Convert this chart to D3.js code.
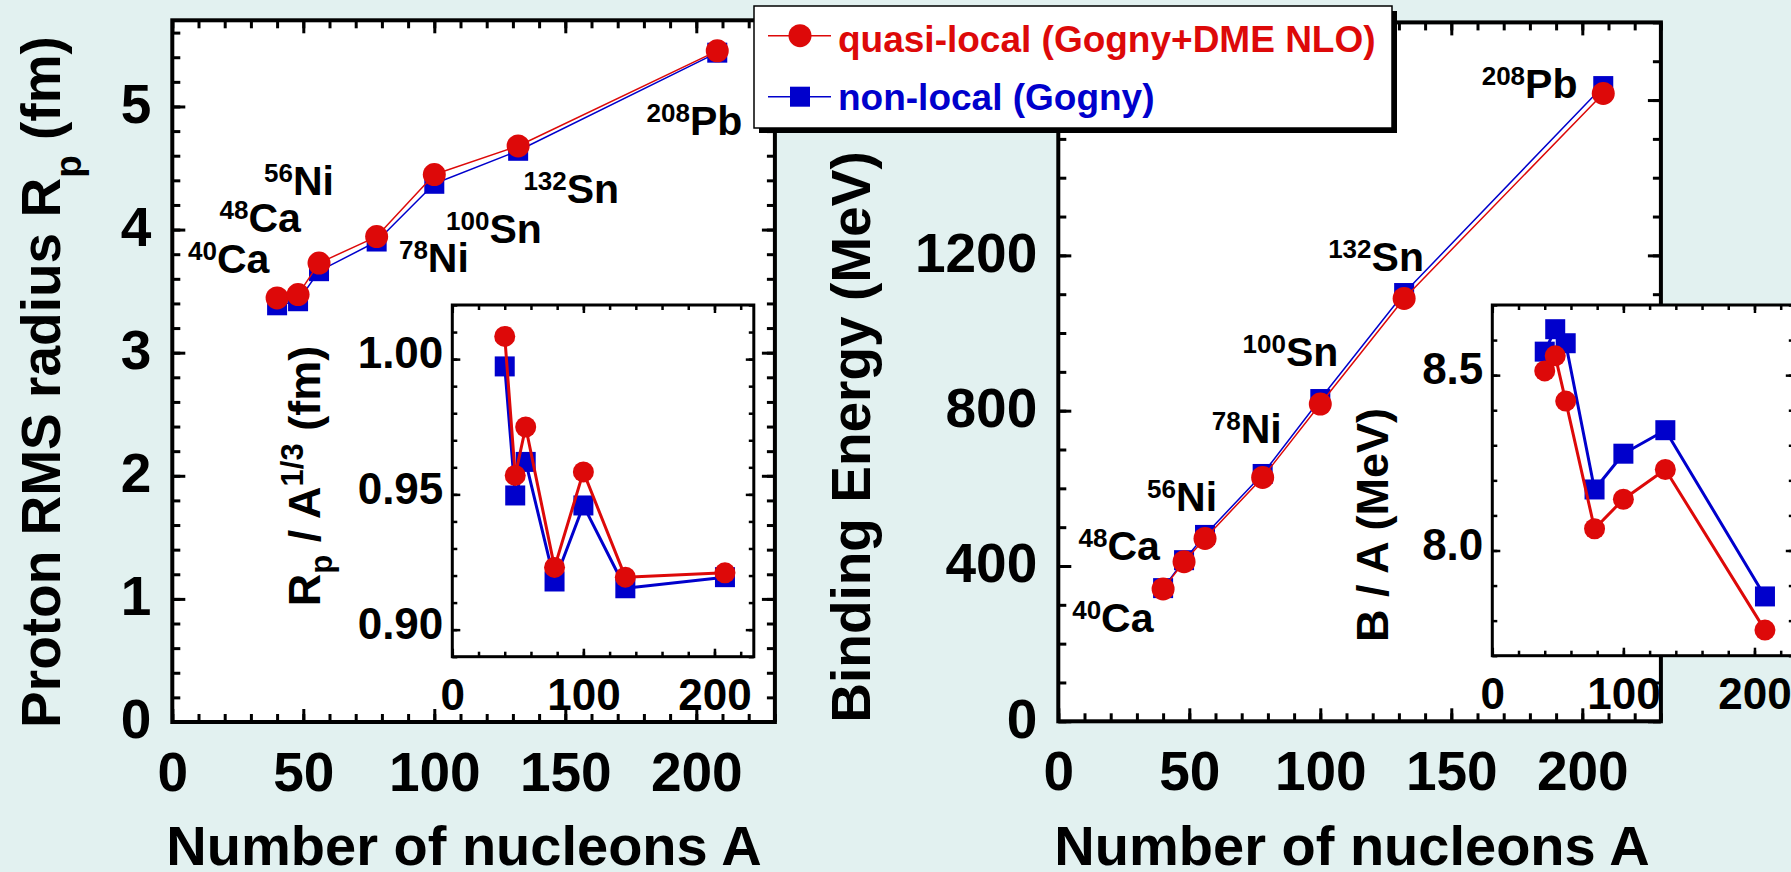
<!DOCTYPE html>
<html>
<head>
<meta charset="utf-8">
<script src="https://cdn.jsdelivr.net/npm/d3@7"></script>
<style>
  html, body { margin: 0; padding: 0; background: #e2f1f0; }
  svg { display: block; }
</style>
</head>
<body>
<svg id="chart" width="1791" height="872"></svg>
<script>
// ---- data ----
const massNumbers = [40, 48, 56, 78, 100, 132, 208];
const elementSymbols = ["Ca", "Ca", "Ni", "Ni", "Sn", "Sn", "Pb"];

// proton rms radius (fm)
const radiusQuasiLocal = [3.445, 3.472, 3.728, 3.943, 4.447, 4.679, 5.452];
const radiusNonLocal   = [3.385, 3.418, 3.662, 3.903, 4.372, 4.640, 5.437];
// Rp / A^(1/3) (fm)
const scaledRadiusQuasiLocal = [1.0084, 0.9570, 0.9749, 0.9230, 0.9583, 0.9194, 0.9210];
const scaledRadiusNonLocal   = [0.9973, 0.9496, 0.9620, 0.9178, 0.9459, 0.9153, 0.9194];
// total binding energy (MeV)
const bindingQuasiLocal = [341, 411, 471, 628, 817, 1089, 1617];
const bindingNonLocal   = [343, 415, 480, 637, 830, 1103, 1636];
// binding energy per nucleon (MeV)
const bindingPerAQuasiLocal = [8.512, 8.555, 8.426, 8.062, 8.146, 8.231, 7.773];
const bindingPerANonLocal   = [8.567, 8.631, 8.591, 8.174, 8.276, 8.343, 7.869];

const seriesNames = ["quasi-local (Gogny+DME NLO)", "non-local (Gogny)"];

// tick values
const mainXMajor = [0, 50, 100, 150, 200];
const mainXMinor = d3.range(0, 24).map(i => i * 10);
const radiusMajor = [0, 1, 2, 3, 4, 5];
const radiusMinor = d3.range(0, 29).map(i => +(i * 0.2).toFixed(1));
const bindingMajor = [0, 400, 800, 1200, 1600];
const bindingLabelled = [0, 400, 800, 1200];
const bindingMinor = d3.range(0, 19).map(i => i * 100);
const insetXMajor = [0, 100, 200];
const insetXMinor = d3.range(0, 12).map(i => i * 20);
const scaledRadiusMajor = [0.90, 0.95, 1.00];
const scaledRadiusMinor = d3.range(89, 103).map(i => i / 100);
const bindingPerAMajor = [8.0, 8.5];
const bindingPerAMinor = d3.range(77, 88).map(i => i / 10);

// nuclide tag anchors in data units (A, value) of each main panel
const radiusTagA = [6, 18, 35, 86.5, 104.5, 134, 181];
const radiusTagV = [3.647, 3.983, 4.281, 3.658, 3.889, 4.214, 4.768];
const bindingTagA = [5.3, 7.7, 33.9, 58.6, 70.3, 103, 161.6];
const bindingTagV = [230, 415, 542, 717, 915, 1160, 1605];

// ---- style ----
const BG = "#e2f1f0";
const RED = "#dd0909";
const BLUE = "#0000cc";
const FONT = "'Liberation Sans', Arial, Helvetica, sans-serif";

const svg = d3.select("#chart");
svg.append("rect").attr("width", 1791).attr("height", 872).attr("fill", BG);

function drawPanel(cfg) {
  const g = svg.append("g");
  const x = d3.scaleLinear().domain(cfg.xDomain).range([cfg.left, cfg.right]);
  const y = d3.scaleLinear().domain(cfg.yDomain).range([cfg.bottom, cfg.top]);

  g.append("rect")
    .attr("x", cfg.left).attr("y", cfg.top)
    .attr("width", cfg.right - cfg.left).attr("height", cfg.bottom - cfg.top)
    .attr("fill", "#fff");

  // axes: inward ticks on all four sides
  const sides = [
    { make: d3.axisBottom, scale: x, pos: [0, cfg.bottom], major: cfg.xMajor, minor: cfg.xMinor, label: cfg.xLabel },
    { make: d3.axisTop,    scale: x, pos: [0, cfg.top],    major: cfg.xMajor, minor: cfg.xMinor },
    { make: d3.axisLeft,   scale: y, pos: [cfg.left, 0],   major: cfg.yMajor, minor: cfg.yMinor, label: cfg.yLabel },
    { make: d3.axisRight,  scale: y, pos: [cfg.right, 0],  major: cfg.yMajor, minor: cfg.yMinor }
  ];
  sides.forEach(sd => {
    const minorAxis = sd.make(sd.scale).tickValues(sd.minor).tickSize(-cfg.minorLen).tickSizeOuter(0).tickFormat("");
    const majorAxis = sd.make(sd.scale).tickValues(sd.major).tickSize(-cfg.majorLen).tickSizeOuter(0);
    if (sd.label) majorAxis.tickFormat(sd.label.format).tickPadding(sd.label.pad);
    else majorAxis.tickFormat("");
    [minorAxis, majorAxis].forEach(ax => {
      const ag = g.append("g").attr("transform", `translate(${sd.pos})`).call(ax);
      ag.select(".domain").remove();
      ag.attr("font-family", null).attr("font-size", null);
      ag.selectAll("line").attr("stroke", "#000").attr("stroke-width", cfg.tickWidth);
      ag.selectAll("text").filter(function () { return this.textContent === ""; }).remove();
      ag.selectAll("text")
        .attr("font-family", FONT).attr("font-weight", "bold")
        .attr("font-size", cfg.tickFont).attr("fill", "#000");
      if (sd.label && sd.label.dy) ag.selectAll("text").attr("dy", sd.label.dy);
    });
  });

  // series: lines and markers (second series drawn first so the first sits on top)
  const line = d3.line().x((d, i) => x(massNumbers[i])).y(d => y(d));
  cfg.series.slice().reverse().forEach(s => {
    g.append("path").datum(s.values)
      .attr("d", line).attr("fill", "none")
      .attr("stroke", s.color).attr("stroke-width", cfg.lineWidth)
      .attr("stroke-linejoin", "round");
    const m = g.append("g").attr("fill", s.color);
    if (s.shape === "circle") {
      m.selectAll("circle").data(s.values).join("circle")
        .attr("cx", (d, i) => x(massNumbers[i])).attr("cy", d => y(d))
        .attr("r", cfg.radius);
    } else {
      m.selectAll("rect").data(s.values).join("rect")
        .attr("x", (d, i) => x(massNumbers[i]) - cfg.square / 2)
        .attr("y", d => y(d) - cfg.square / 2)
        .attr("width", cfg.square).attr("height", cfg.square);
    }
  });

  // nuclide tags
  if (cfg.tags) {
    const tg = g.append("g").attr("font-family", FONT).attr("font-weight", "bold").attr("fill", "#000");
    massNumbers.forEach((a, i) => {
      const t = tg.append("text")
        .attr("x", x(cfg.tags.a[i])).attr("y", y(cfg.tags.v[i]))
        .attr("font-size", 41);
      t.append("tspan").attr("font-size", 26).attr("dy", -13).text(String(a));
      t.append("tspan").attr("dy", 13).text(elementSymbols[i]);
    });
  }

  // frame
  g.append("rect")
    .attr("x", cfg.left).attr("y", cfg.top)
    .attr("width", cfg.right - cfg.left).attr("height", cfg.bottom - cfg.top)
    .attr("fill", "none").attr("stroke", "#000").attr("stroke-width", cfg.frameWidth);
  return { x, y };
}

const mainStyle = {
  xDomain: [0, 230], majorLen: 13, minorLen: 8, tickWidth: 3, frameWidth: 4,
  tickFont: 55, lineWidth: 1.5, radius: 11.5, square: 20,
  xMajor: mainXMajor, xMinor: mainXMinor,
  xLabel: { format: d3.format("d"), pad: 30 }
};
const insetStyle = {
  xDomain: [0, 230], majorLen: 8, minorLen: 5, tickWidth: 2.5, frameWidth: 3,
  tickFont: 44, lineWidth: 3, radius: 10.5, square: 20,
  xMajor: insetXMajor, xMinor: insetXMinor,
  xLabel: { format: d3.format("d"), pad: 22 }
};

// ---- left: proton radius ----
drawPanel(Object.assign({}, mainStyle, {
  left: 172.3, right: 774.9, top: 20.3, bottom: 722,
  yDomain: [0, 5.7], yMajor: radiusMajor, yMinor: radiusMinor,
  yLabel: { format: d3.format("d"), pad: 21, dy: "0.29em" },
  series: [
    { values: radiusQuasiLocal, color: RED, shape: "circle" },
    { values: radiusNonLocal, color: BLUE, shape: "square" }
  ],
  tags: { a: radiusTagA, v: radiusTagV }
}));

drawPanel(Object.assign({}, insetStyle, {
  left: 452.3, right: 753.8, top: 305, bottom: 656.7,
  yDomain: [0.89, 1.02], yMajor: scaledRadiusMajor, yMinor: scaledRadiusMinor,
  yLabel: { format: d3.format(".2f"), pad: 9, dy: "0.2em" },
  series: [
    { values: scaledRadiusQuasiLocal, color: RED, shape: "circle" },
    { values: scaledRadiusNonLocal, color: BLUE, shape: "square" }
  ]
}));

// ---- right: binding energy ----
drawPanel(Object.assign({}, mainStyle, {
  left: 1058.3, right: 1660.9, top: 22.4, bottom: 721.3,
  yDomain: [0, 1800], yMajor: bindingMajor, yMinor: bindingMinor,
  yLabel: { format: v => bindingLabelled.includes(v) ? d3.format("d")(v) : "", pad: 21, dy: "0.29em" },
  series: [
    { values: bindingQuasiLocal, color: RED, shape: "circle" },
    { values: bindingNonLocal, color: BLUE, shape: "square" }
  ],
  tags: { a: bindingTagA, v: bindingTagV }
}));

drawPanel(Object.assign({}, insetStyle, {
  left: 1492.3, right: 1793.8, top: 305, bottom: 655.7,
  yDomain: [7.7, 8.7], yMajor: bindingPerAMajor, yMinor: bindingPerAMinor,
  yLabel: { format: d3.format(".1f"), pad: 9, dy: "0.2em" },
  series: [
    { values: bindingPerAQuasiLocal, color: RED, shape: "circle" },
    { values: bindingPerANonLocal, color: BLUE, shape: "square" }
  ]
}));

// ---- axis titles ----
const titles = svg.append("g").attr("font-family", FONT).attr("font-weight", "bold").attr("fill", "#000");

titles.append("text").attr("x", 464).attr("y", 865).attr("text-anchor", "middle")
  .attr("font-size", 56).text("Number of nucleons A");
titles.append("text").attr("x", 1352).attr("y", 865).attr("text-anchor", "middle")
  .attr("font-size", 56).text("Number of nucleons A");

const yTitleL = titles.append("text").attr("transform", "translate(60,382) rotate(-90)")
  .attr("text-anchor", "middle").attr("font-size", 55);
yTitleL.append("tspan").text("Proton RMS radius R");
yTitleL.append("tspan").attr("font-size", 37).attr("dy", 21).text("p");
yTitleL.append("tspan").attr("dy", -21).text(" (fm)");

titles.append("text").attr("transform", "translate(870,437) rotate(-90)")
  .attr("text-anchor", "middle").attr("font-size", 55).text("Binding Energy (MeV)");

const yTitleInsetL = titles.append("text").attr("transform", "translate(320,476) rotate(-90)")
  .attr("text-anchor", "middle").attr("font-size", 45);
yTitleInsetL.append("tspan").text("R");
yTitleInsetL.append("tspan").attr("font-size", 31).attr("dy", 12).text("p");
yTitleInsetL.append("tspan").attr("dy", -12).text(" / A");
yTitleInsetL.append("tspan").attr("font-size", 31).attr("dy", -17).text("1/3");
yTitleInsetL.append("tspan").attr("dy", 17).text(" (fm)");

titles.append("text").attr("transform", "translate(1388,525) rotate(-90)")
  .attr("text-anchor", "middle").attr("font-size", 45).text("B / A (MeV)");

// ---- legend ----
const lg = svg.append("g");
lg.append("rect").attr("x", 759).attr("y", 11).attr("width", 638).attr("height", 122).attr("fill", "#000");
lg.append("rect").attr("x", 754).attr("y", 6).attr("width", 638).attr("height", 122)
  .attr("fill", "#fff").attr("stroke", "#000").attr("stroke-width", 1.5);

const legendRows = [
  { name: seriesNames[0], color: RED, shape: "circle", cy: 35.7, base: 51.7 },
  { name: seriesNames[1], color: BLUE, shape: "square", cy: 96.7, base: 110 }
];
legendRows.forEach(r => {
  lg.append("line").attr("x1", 768).attr("x2", 831).attr("y1", r.cy).attr("y2", r.cy)
    .attr("stroke", r.color).attr("stroke-width", 1.5);
  if (r.shape === "circle") {
    lg.append("circle").attr("cx", 800).attr("cy", r.cy).attr("r", 11.5).attr("fill", r.color);
  } else {
    lg.append("rect").attr("x", 790).attr("y", r.cy - 10).attr("width", 20).attr("height", 20).attr("fill", r.color);
  }
  lg.append("text").attr("x", 838).attr("y", r.base)
    .attr("font-family", FONT).attr("font-weight", "bold").attr("font-size", 37)
    .attr("fill", r.color).text(r.name);
});
</script>
</body>
</html>
